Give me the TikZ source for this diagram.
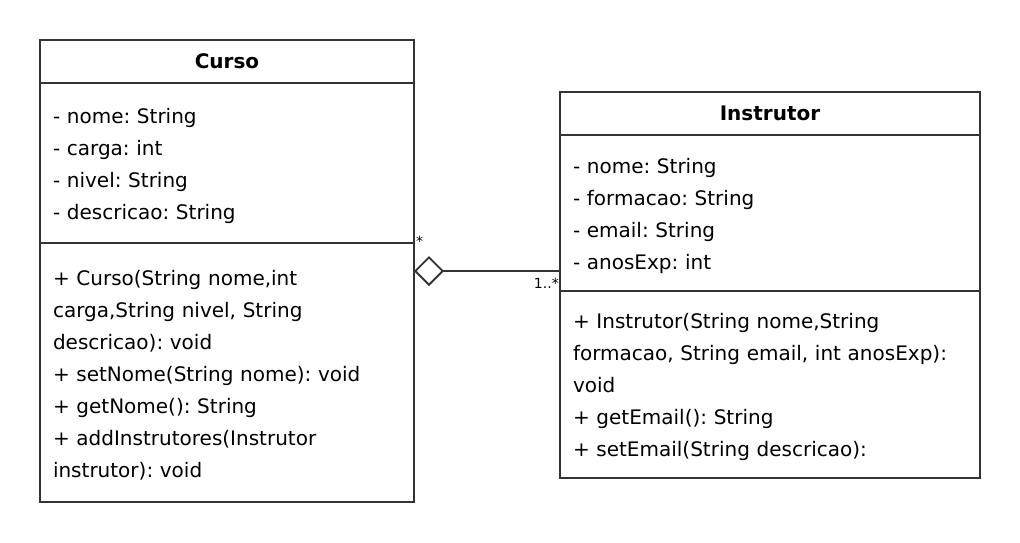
\documentclass[tikz,border=0pt]{standalone}
\usepackage{fontspec}
\setmainfont{DejaVu Sans}
\usetikzlibrary{positioning,arrows.meta}
\definecolor{linegray}{HTML}{333333}
\frenchspacing
\tikzset{
  box/.style={draw=linegray, line width=2pt, inner xsep=13pt, inner ysep=0pt,
    outer sep=0pt, align=left, font=\fontsize{20}{32}\selectfont,
    execute at begin node={\rule{0pt}{21pt}}},
  head/.style={draw=linegray, line width=2pt, inner sep=0pt, outer sep=0pt,
    align=center, minimum height=43pt,
    font=\bfseries\fontsize{20}{24}\selectfont},
  aggr/.style={draw=linegray, line width=1.8pt,
    {Diamond[open, length=30pt, width=30pt, line width=1.8pt]}-},
  mult/.style={font=\fontsize{14}{16}\selectfont, inner sep=0pt}
}

\begin{document}
\begin{tikzpicture}[x=1pt,y=1pt]
\useasboundingbox (0,0) rectangle (1020,-542);

\node[head, text width=374pt, anchor=north west] (chead) at (40,-40) {Curso};
\node[box, text width=348pt, minimum height=160pt, below=0pt of chead] (catr)
  {- nome: String\\- carga: int\\- nivel: String\\- descricao: String};
\node[box, text width=348pt, minimum height=259pt, below=0pt of catr] (cmet)
  {+ Curso(String nome,int\\carga,String nivel, String\\descricao): void\\
   + setNome(String nome): void\\+ getNome(): String\\
   + addInstrutores(Instrutor\\instrutor): void};

\node[head, text width=420pt, anchor=north west] (ihead) at (560,-92) {Instrutor};
\node[box, text width=394pt, minimum height=156pt, below=0pt of ihead] (iatr)
  {- nome: String\\- formacao: String\\- email: String\\- anosExp: int};
\node[box, text width=394pt, minimum height=187pt, below=0pt of iatr] (imet)
  {+ Instrutor(String nome,String\\formacao, String email, int anosExp):\\void\\
   + getEmail(): String\\+ setEmail(String descricao):};

\coordinate (aggfrom) at ([yshift=-28pt]cmet.north east);
\coordinate (aggto) at (aggfrom -| iatr.west);
\draw[aggr] (aggfrom) -- (aggto);
\node[mult, anchor=base west] (cmult) at ([xshift=2pt,yshift=25pt]aggfrom) {*};
\node[mult, anchor=base east] (imult) at ([xshift=-1pt,yshift=-17pt]aggto) {1..*};
\end{tikzpicture}
\end{document}
